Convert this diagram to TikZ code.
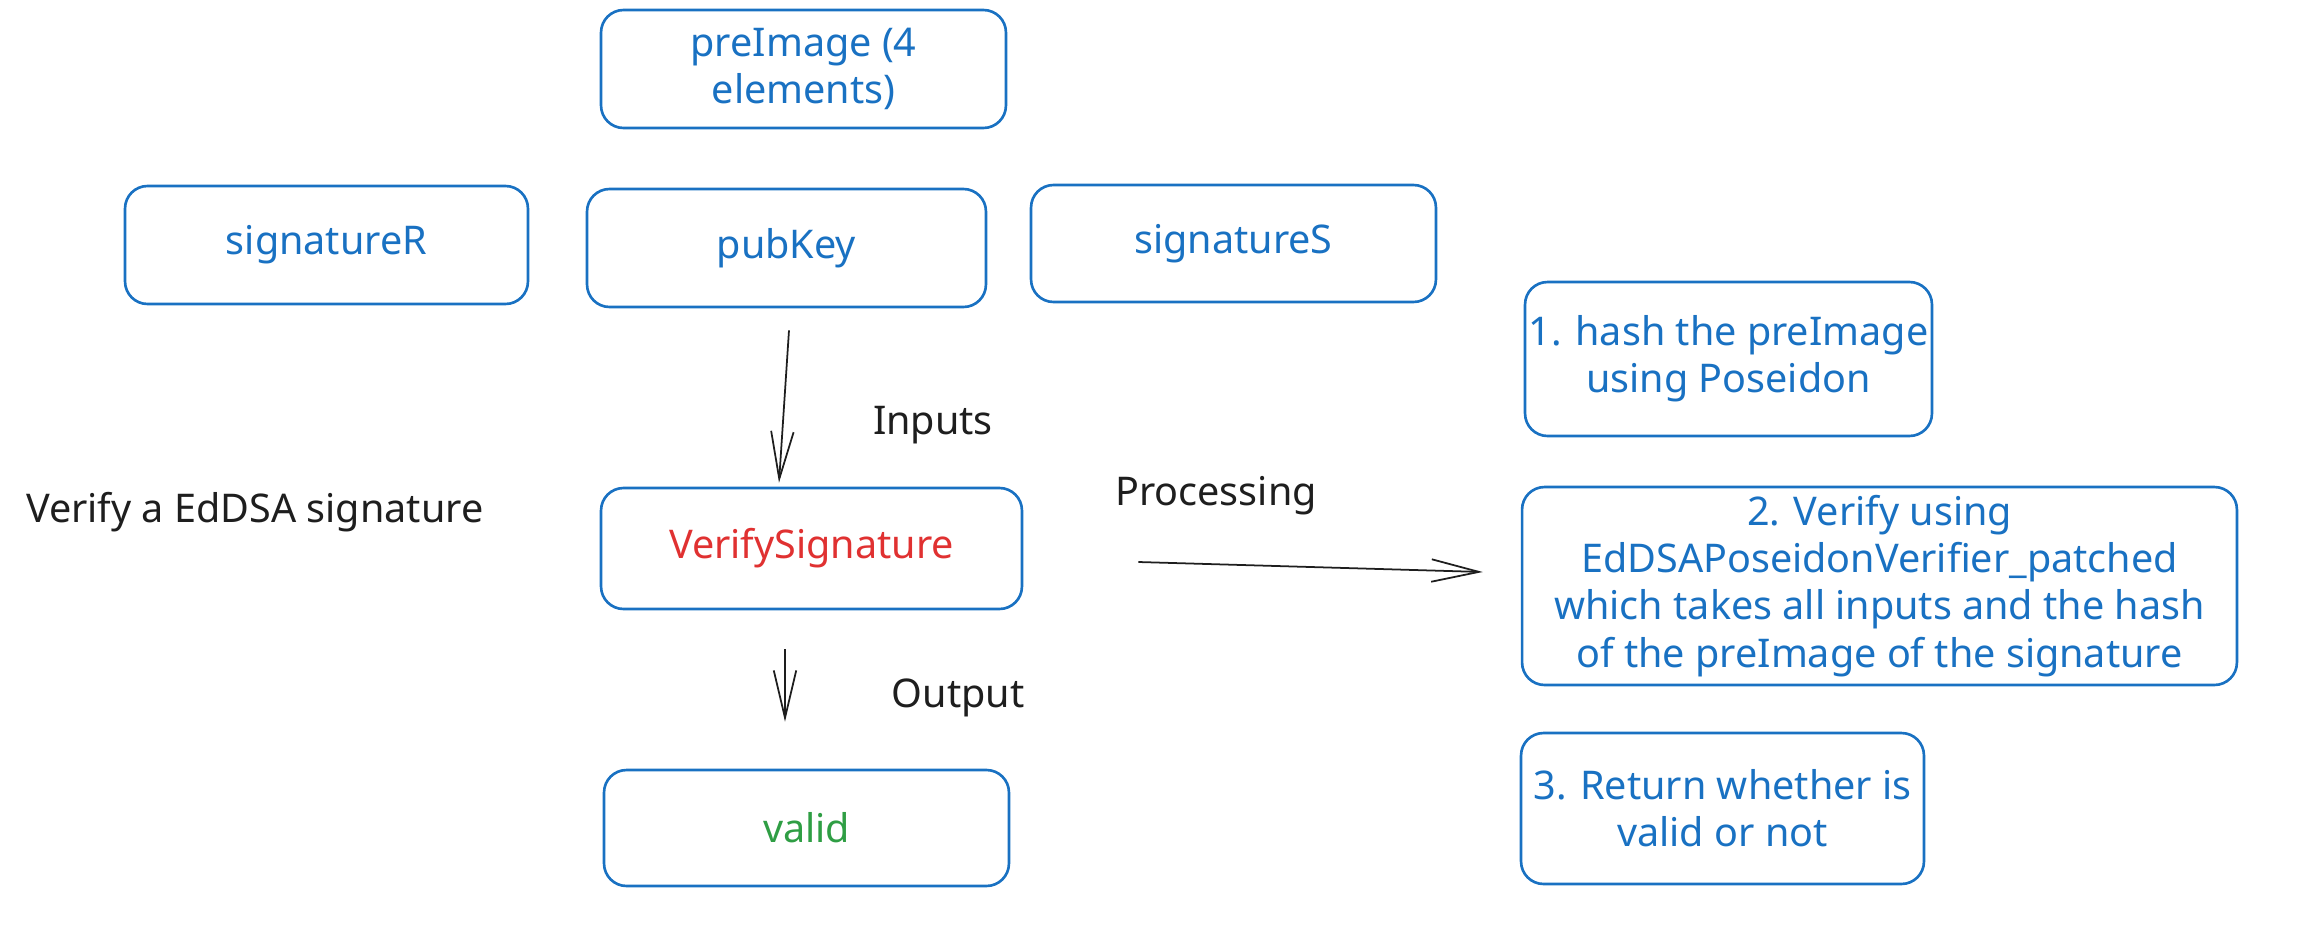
\documentclass[tikz,border=0pt]{standalone}
\usepackage{fontspec}
\setmainfont{Noto Sans}
\usetikzlibrary{arrows.meta,calc}
\definecolor{inkblue}{HTML}{1971C2}
\definecolor{inkred}{HTML}{E03131}
\definecolor{inkgreen}{HTML}{2F9E44}
\definecolor{inkblack}{HTML}{1E1E1E}

\begin{document}
\begin{tikzpicture}[x=0.02cm, y=-0.02cm,
    box/.style={draw=inkblue, line width=1.5pt, rounded corners=0.45cm, text=inkblue,
      align=center, inner sep=0pt, font=\fontsize{22.5}{26.8}\selectfont},
    lbl/.style={text=inkblack, font=\fontsize{22.5}{26.8}\selectfont},
    arr/.style={draw=inkblack, line width=1pt, -{Straight Barb[length=0.95cm, width=0.45cm]}}]
    \useasboundingbox (0,0) rectangle (2300,930);

    % Inputs
    \node[box, minimum width=8.1cm, minimum height=2.36cm] (preImage) at (803.5,69) {preImage (4\\elements)};
    \node[box, minimum width=8.06cm, minimum height=2.36cm] (sigR) at (326.5,245) {signatureR};
    \node[box, minimum width=7.98cm, minimum height=2.36cm] (pubKey) at (786.5,248) {pubKey};
    \node[box, minimum width=8.1cm, minimum height=2.34cm] (sigS) at (1233.5,243.5) {signatureS};

    % Circuit and output
    \node[box, minimum width=8.42cm, minimum height=2.42cm, text=inkred] (verify) at (811.5,548.5) {VerifySignature};
    \node[box, minimum width=8.1cm, minimum height=2.32cm, text=inkgreen] (valid) at (806.5,828) {valid};

    % Processing steps
    \node[box, minimum width=8.14cm, minimum height=3.08cm] (stepHash) at (1728.5,359) {1. hash the preImage\\using Poseidon};
    \node[box, minimum width=14.3cm, minimum height=3.96cm] (stepVerify) at (1879.5,586)
        {2. Verify using\\EdDSAPoseidonVerifier\_patched\\which takes all inputs and the hash\\of the preImage of the signature};
    \node[box, minimum width=8.06cm, minimum height=3.02cm] (stepReturn) at (1722.5,808.5) {3. Return whether is\\valid or not};

    % Labels
    \node[lbl, anchor=west] (title) at (20,512) {Verify a EdDSA signature};
    \node[lbl] (inputs) at (933,425) {Inputs};
    \node[lbl] (processing) at (1216,496) {Processing};
    \node[lbl] (output) at (958,698) {Output};

    % Arrows
    \draw[arr] ($(pubKey.south)+(2.5,22)$) -- ($(verify.north)+(-32.5,-4)$);
    \draw[arr] ($(verify.south)+(-26.5,39)$) -- ($(valid.north)+(-21.5,-47)$);
    \draw[arr] ($(verify.east)+(115,13.5)$) -- ($(stepVerify.west)+(-38,-14)$);
\end{tikzpicture}
\end{document}
